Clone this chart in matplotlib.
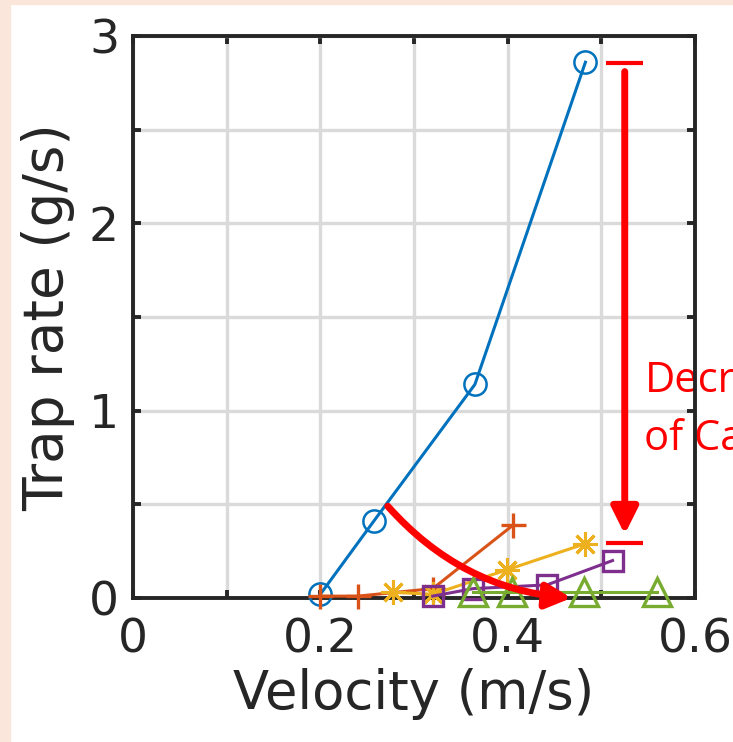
import matplotlib
matplotlib.use("Agg")
import matplotlib.pyplot as plt
from matplotlib.patches import Rectangle

# Data
blue_x = [0.20, 0.257, 0.365, 0.483]
blue_y = [0.02, 0.41, 1.14, 2.86]
orange_x = [0.20, 0.24, 0.32, 0.406]
orange_y = [0.01, 0.01, 0.05, 0.39]
yellow_x = [0.278, 0.32, 0.399, 0.483]
yellow_y = [0.03, 0.02, 0.15, 0.29]
purple_x = [0.32, 0.363, 0.442, 0.512]
purple_y = [0.01, 0.05, 0.07, 0.20]
green_x = [0.363, 0.405, 0.481, 0.559]
green_y = [0.03, 0.03, 0.03, 0.03]

xticks = [0, 0.1, 0.2, 0.3, 0.4, 0.5, 0.6]
xticklabels = ["0", "", "0.2", "", "0.4", "", "0.6"]
yticks = [0, 0.5, 1, 1.5, 2, 2.5, 3]
yticklabels = ["0", "", "1", "", "2", "", "3"]

fig = plt.figure(figsize=(7.33, 7.42), dpi=100)
fig.patch.set_facecolor("white")
peach = "#FBE6DB"
fig.patches.append(Rectangle((0, 0), 10 / 733, 1, transform=fig.transFigure, color=peach, zorder=-10))
fig.patches.append(Rectangle((0, 1 - 4 / 742), 1, 4 / 742, transform=fig.transFigure, color=peach, zorder=-10))

ax = fig.add_axes([133 / 733, (742 - 598) / 742, (695 - 133) / 733, (598 - 36) / 742])
ax.set_xlim(0, 0.6)
ax.set_ylim(0, 3)
ax.set_xticks(xticks)
ax.set_xticklabels(xticklabels)
ax.set_yticks(yticks)
ax.set_yticklabels(yticklabels)
ax.grid(True, color="#DADADA", lw=2.4)
ax.set_axisbelow(True)
ax.tick_params(direction="in", length=6, width=2.8, colors="#262626", labelsize=34,
               top=True, right=True)
ax.tick_params(axis="x", pad=14)
ax.tick_params(axis="y", pad=10)
for s in ax.spines.values():
    s.set_linewidth(2.8)
    s.set_color("#262626")
    s.set_zorder(2.5)

lw = 2.2
ms = 16
mew = 1.8
ax.plot(blue_x, blue_y, color="#0072BD", marker="o", ms=ms, mfc="none", mew=mew, lw=lw, clip_on=False, zorder=3)
ax.plot(orange_x, orange_y, color="#D95319", marker="+", ms=ms + 2, mew=mew + 0.6, lw=lw, clip_on=False, zorder=3)
ax.plot(yellow_x, yellow_y, color="#EDB120", marker=(8, 2, 0), ms=ms + 2, mew=mew + 0.4, lw=lw, clip_on=False, zorder=3)
ax.plot(purple_x, purple_y, color="#7E2F8E", marker="s", ms=ms - 2, mfc="none", mew=mew + 0.6, lw=lw, clip_on=False, zorder=3)
ax.plot(green_x, green_y, color="#77AC30", marker="^", ms=ms + 4, mfc="none", mew=mew + 0.6, lw=lw, clip_on=False, zorder=3)

ax.set_xlabel("Velocity (m/s)", fontsize=38, color="#262626", labelpad=4)
ax.set_ylabel("Trap rate (g/s)", fontsize=39.5, color="#262626", labelpad=10)

red = "#FF0000"
# bars
ax.plot([0.505, 0.545], [2.856, 2.856], color=red, lw=3, solid_capstyle="butt", zorder=4, clip_on=False)
ax.plot([0.505, 0.545], [0.294, 0.294], color=red, lw=3, solid_capstyle="butt", zorder=4, clip_on=False)
# vertical arrow
ax.annotate("", xy=(0.525, 0.34), xytext=(0.525, 2.81),
            arrowprops=dict(arrowstyle="-|>,head_length=0.8,head_width=0.4", color=red, lw=5.0,
                            mutation_scale=20, shrinkA=0, shrinkB=0), zorder=4, annotation_clip=False)
# curved arrow
ax.annotate("", xy=(0.468, 0.0), xytext=(0.272, 0.49),
            arrowprops=dict(arrowstyle="-|>,head_length=0.75,head_width=0.38", color=red, lw=5.0,
                            mutation_scale=20, shrinkA=0, shrinkB=0, connectionstyle="arc3,rad=0.2"),
            zorder=4, annotation_clip=False)

ax.text(0.546, 1.16, "Decr", color=red, fontsize=30, family="Open Sans", va="center", ha="left",
        zorder=2, clip_on=False)
ax.text(0.546, 0.85, "of Ca", color=red, fontsize=30, family="Open Sans", va="center", ha="left",
        zorder=2, clip_on=False)

fig.savefig("out.png", dpi=100)
